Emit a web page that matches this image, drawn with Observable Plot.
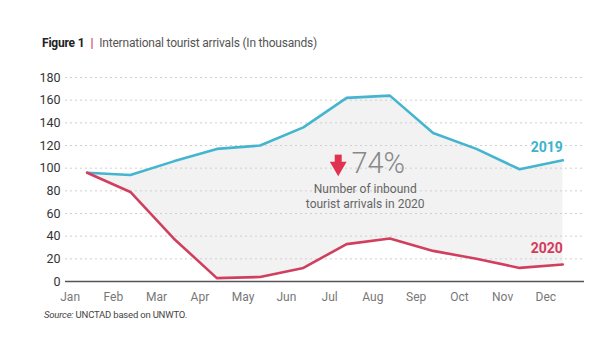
<!DOCTYPE html>
<html>
<head>
<meta charset="utf-8">
<script src="https://cdn.jsdelivr.net/npm/d3@7"></script>
<script src="https://cdn.jsdelivr.net/npm/@observablehq/plot@0.6"></script>
<style>
  html, body { margin: 0; padding: 0; background: #fff; width: 600px; height: 355px; overflow: hidden; }
  body { font-family: Roboto, sans-serif; }
  #title { height: 60px; box-sizing: border-box; padding: 36px 0 0 42px; font-size: 12px; color: #555; line-height: 14px; letter-spacing: -0.2px; }
  #title b { color: #222; }
  #title .bar { color: #d6395a; font-weight: bold; margin: 0 6px 0 6px; }
  #source { padding: 4px 0 0 44px; font-size: 9.5px; color: #444; letter-spacing: -0.2px; }
  svg { display: block; }
</style>
</head>
<body>
<div id="title"><b>Figure 1</b><span class="bar">|</span>International tourist arrivals (In thousands)</div>
<div id="chart"></div>
<div id="source"><i>Source:</i> UNCTAD based on UNWTO.</div>
<script>
const months = ["Jan","Feb","Mar","Apr","May","Jun","Jul","Aug","Sep","Oct","Nov","Dec"];
const arrivals2019 = [96, 94, 106, 117, 120, 136, 162, 164, 131, 117, 99, 107];
const arrivals2020 = [96, 79, 38, 3, 4, 12, 33, 38, 27, 20, 12, 15];
const yTicks = [0, 20, 40, 60, 80, 100, 120, 140, 160, 180];
const seriesLabels = [
  {text: "2019", month: 11, value: 118, color: "#3cb4cc"},
  {text: "2020", month: 11, value: 29, color: "#d33a5c"}
];
const annotation = {pct: "74%", note: "Number of inbound\ntourist arrivals in 2020", month: 6.43, value: 104, noteValue: 76, arrowTop: 111.5, arrowMid: 103};

const rows = months.map((m, i) => ({i, m, v2019: arrivals2019[i], v2020: arrivals2020[i]}));

const font = "Roboto, sans-serif";

const plot = Plot.plot({
  width: 600,
  height: 245,
  marginTop: 17,
  marginBottom: 24,
  marginLeft: 65,
  marginRight: 16,
  style: {fontFamily: font, fontSize: "12px", background: "#fff"},
  x: {domain: [-0.5, 11.5], axis: null},
  y: {domain: [0, 180], axis: null},
  marks: [
    Plot.areaY(rows, {x: "i", y1: "v2020", y2: "v2019", fill: "#f2f2f2"}),
    Plot.ruleY(yTicks.filter(d => d > 0), {stroke: "#cfcfcf", strokeDasharray: "2,3", strokeWidth: 1}),
    Plot.ruleY([0], {stroke: "#555", strokeWidth: 1.3}),
    Plot.text(yTicks, {x: -0.5, y: d => d, text: d => String(d), textAnchor: "end", dx: -5, fill: "#333", fontSize: 12.5}),
    Plot.text(rows, {x: "i", y: 0, text: "m", dy: 16, dx: -17, fill: "#777", fontSize: 12}),
    Plot.line(rows, {x: "i", y: "v2019", stroke: "#45b5cf", strokeWidth: 2.6}),
    Plot.line(rows, {x: "i", y: "v2020", stroke: "#d13f5f", strokeWidth: 2.6}),
    Plot.text(seriesLabels, {x: "month", y: "value", text: "text", fill: "color", textAnchor: "end", fontWeight: "bold", fontSize: 14}),
    Plot.ruleX([annotation], {x: "month", y1: "arrowTop", y2: "arrowMid", dx: -27, stroke: "#e0334f", strokeWidth: 7}),
    Plot.dot([annotation], {x: "month", y: d => d.arrowMid - 1.5, dx: -27, symbol: "triangle2", rotate: 180, r: 8, fill: "#e0334f", stroke: "none"}),
    Plot.text([annotation], {x: "month", y: "value", text: "pct", dx: 13, fill: "#888", fontSize: 29, fontWeight: 300, fontFamily: "Roboto, sans-serif"}),
    Plot.text([annotation], {x: "month", y: "noteValue", text: "note", fill: "#666", fontSize: 12, lineHeight: 1.3})
  ]
});
document.getElementById("chart").appendChild(plot);
</script>
</body>
</html>
